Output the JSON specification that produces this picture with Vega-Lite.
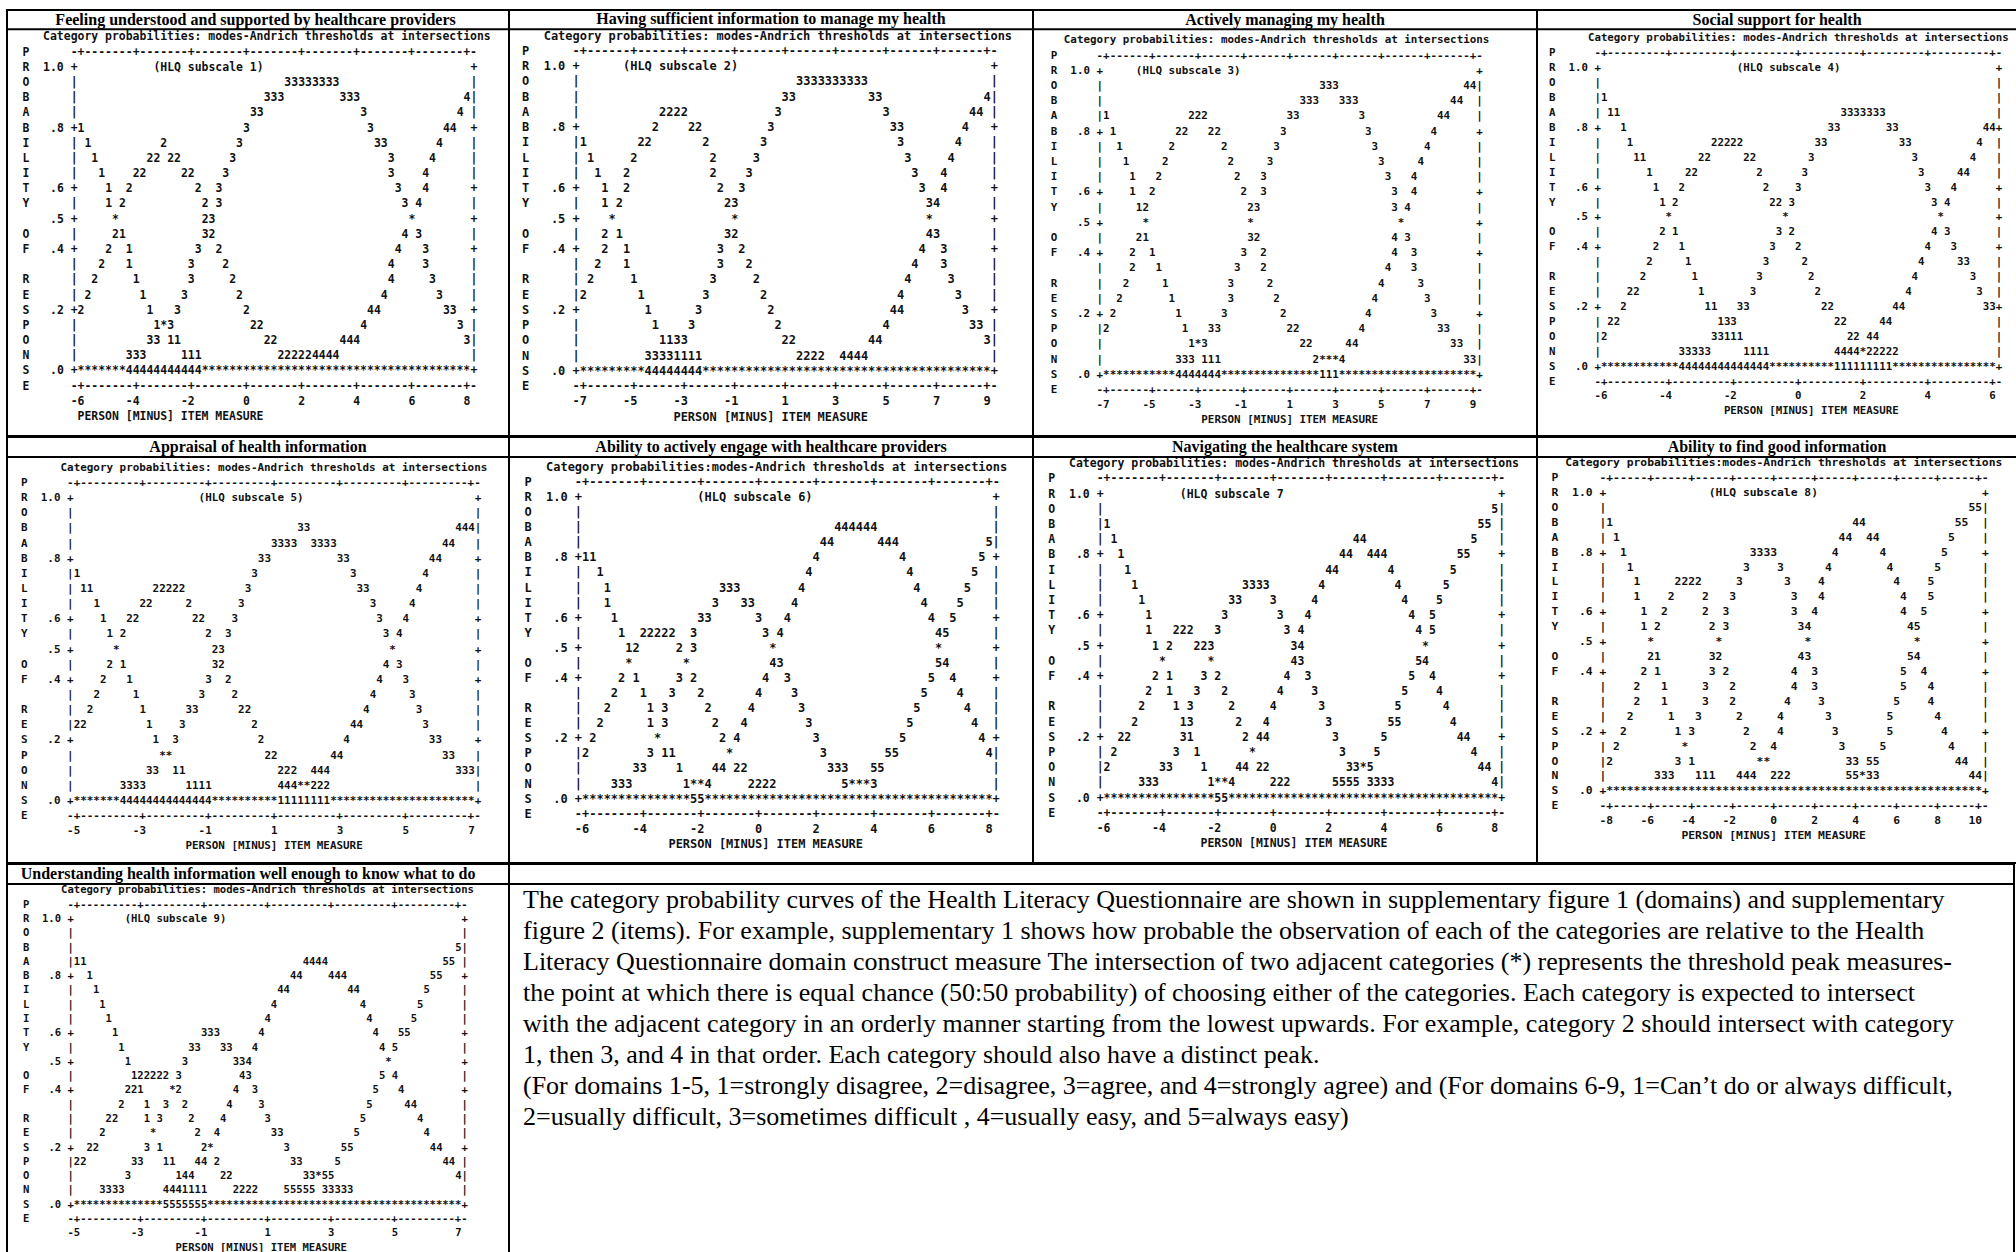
{
"$schema": "https://vega.github.io/schema/vega-lite/v6.json",
"background": "white",
"padding": {"left": 5, "top": 9, "right": 0, "bottom": 0},
"config": {"view": {"stroke": "black", "strokeWidth": 2}, "concat": {"spacing": 0}, "axis": {"disable": true}},
"datasets": {
"axisL": [
{"r":1,"c":0,"t":"P"},
{"r":2,"c":0,"t":"R"},{"r":2,"c":3,"t":"1.0 +"},
{"r":3,"c":0,"t":"O"},{"r":3,"c":7,"t":"|"},
{"r":4,"c":0,"t":"B"},{"r":4,"c":7,"t":"|"},
{"r":5,"c":0,"t":"A"},{"r":5,"c":7,"t":"|"},
{"r":6,"c":0,"t":"B"},{"r":6,"c":4,"t":".8 +"},
{"r":7,"c":0,"t":"I"},{"r":7,"c":7,"t":"|"},
{"r":8,"c":0,"t":"L"},{"r":8,"c":7,"t":"|"},
{"r":9,"c":0,"t":"I"},{"r":9,"c":7,"t":"|"},
{"r":10,"c":0,"t":"T"},{"r":10,"c":4,"t":".6 +"},
{"r":11,"c":0,"t":"Y"},{"r":11,"c":7,"t":"|"},
{"r":12,"c":4,"t":".5 +"},
{"r":13,"c":0,"t":"O"},{"r":13,"c":7,"t":"|"},
{"r":14,"c":0,"t":"F"},{"r":14,"c":4,"t":".4 +"},
{"r":15,"c":7,"t":"|"},
{"r":16,"c":0,"t":"R"},{"r":16,"c":7,"t":"|"},
{"r":17,"c":0,"t":"E"},{"r":17,"c":7,"t":"|"},
{"r":18,"c":0,"t":"S"},{"r":18,"c":4,"t":".2 +"},
{"r":19,"c":0,"t":"P"},{"r":19,"c":7,"t":"|"},
{"r":20,"c":0,"t":"O"},{"r":20,"c":7,"t":"|"},
{"r":21,"c":0,"t":"N"},{"r":21,"c":7,"t":"|"},
{"r":22,"c":0,"t":"S"},{"r":22,"c":4,"t":".0 +"},
{"r":23,"c":0,"t":"E"}
],
"axisR": [
{"r":2,"t":"+"},{"r":3,"t":"|"},{"r":4,"t":"|"},{"r":5,"t":"|"},{"r":6,"t":"+"},{"r":7,"t":"|"},{"r":8,"t":"|"},{"r":9,"t":"|"},{"r":10,"t":"+"},{"r":11,"t":"|"},{"r":12,"t":"+"},{"r":13,"t":"|"},{"r":14,"t":"+"},{"r":15,"t":"|"},{"r":16,"t":"|"},{"r":17,"t":"|"},{"r":18,"t":"+"},{"r":19,"t":"|"},{"r":20,"t":"|"},{"r":21,"t":"|"},{"r":22,"t":"+"}
],
"titles": [
{"p":1,"t":"Feeling understood and supported by healthcare providers"},
{"p":2,"t":"Having sufficient information to manage my health"},
{"p":3,"t":"Actively managing my health"},
{"p":4,"t":"Social support for health"},
{"p":5,"t":"Appraisal of health information"},
{"p":6,"t":"Ability to actively engage with healthcare providers"},
{"p":7,"t":"Navigating the healthcare system"},
{"p":8,"t":"Ability to find good information"},
{"p":9,"t":"Understanding health information well enough to know what to do"}
],
"note": [
{"i":0,"t":"The category probability curves of the Health Literacy Questionnaire are shown in supplementary figure 1 (domains) and supplementary"},
{"i":1,"t":"figure 2 (items). For example, supplementary 1 shows how probable the observation of each of the categories are relative to the Health"},
{"i":2,"t":"Literacy Questionnaire domain construct measure The intersection of two adjacent categories (*) represents the threshold peak measures-"},
{"i":3,"t":"the point at which there is equal chance (50:50 probability) of choosing either of the categories. Each category is expected to intersect"},
{"i":4,"t":"with the adjacent category in an orderly manner starting from the lowest upwards. For example, category 2 should intersect with category"},
{"i":5,"t":"1, then 3, and 4 in that order. Each category should also have a distinct peak."},
{"i":6,"t":"(For domains 1-5, 1=strongly disagree, 2=disagree, 3=agree, and 4=strongly agree) and (For domains 6-9, 1=Can’t do or always difficult,"},
{"i":7,"t":"2=usually difficult, 3=sometimes difficult , 4=usually easy, and 5=always easy)"}
],
"seg": [
{"p":1,"r":0,"c":3,"t":"Category probabilities: modes-Andrich thresholds at intersections"},
{"p":1,"r":1,"c":7,"t":"-+-------+-------+-------+-------+-------+-------+-------+-"},
{"p":1,"r":2,"c":19,"t":"(HLQ subscale 1)"},
{"p":1,"r":3,"c":38,"t":"33333333"},
{"p":1,"r":4,"c":35,"t":"333"},{"p":1,"r":4,"c":46,"t":"333"},{"p":1,"r":4,"c":64,"t":"4"},
{"p":1,"r":5,"c":33,"t":"33"},{"p":1,"r":5,"c":49,"t":"3"},{"p":1,"r":5,"c":63,"t":"4"},
{"p":1,"r":6,"c":8,"t":"1"},{"p":1,"r":6,"c":32,"t":"3"},{"p":1,"r":6,"c":50,"t":"3"},{"p":1,"r":6,"c":61,"t":"44"},
{"p":1,"r":7,"c":9,"t":"1"},{"p":1,"r":7,"c":20,"t":"2"},{"p":1,"r":7,"c":31,"t":"3"},{"p":1,"r":7,"c":51,"t":"33"},{"p":1,"r":7,"c":60,"t":"4"},
{"p":1,"r":8,"c":10,"t":"1"},{"p":1,"r":8,"c":18,"t":"22 22"},{"p":1,"r":8,"c":30,"t":"3"},{"p":1,"r":8,"c":53,"t":"3"},{"p":1,"r":8,"c":59,"t":"4"},
{"p":1,"r":9,"c":11,"t":"1"},{"p":1,"r":9,"c":16,"t":"22"},{"p":1,"r":9,"c":23,"t":"22"},{"p":1,"r":9,"c":29,"t":"3"},{"p":1,"r":9,"c":53,"t":"3"},{"p":1,"r":9,"c":58,"t":"4"},
{"p":1,"r":10,"c":12,"t":"1"},{"p":1,"r":10,"c":15,"t":"2"},{"p":1,"r":10,"c":25,"t":"2"},{"p":1,"r":10,"c":28,"t":"3"},{"p":1,"r":10,"c":54,"t":"3"},{"p":1,"r":10,"c":58,"t":"4"},
{"p":1,"r":11,"c":12,"t":"1 2"},{"p":1,"r":11,"c":26,"t":"2 3"},{"p":1,"r":11,"c":55,"t":"3 4"},
{"p":1,"r":12,"c":13,"t":"*"},{"p":1,"r":12,"c":26,"t":"23"},{"p":1,"r":12,"c":56,"t":"*"},
{"p":1,"r":13,"c":13,"t":"21"},{"p":1,"r":13,"c":26,"t":"32"},{"p":1,"r":13,"c":55,"t":"4 3"},
{"p":1,"r":14,"c":12,"t":"2"},{"p":1,"r":14,"c":15,"t":"1"},{"p":1,"r":14,"c":25,"t":"3"},{"p":1,"r":14,"c":28,"t":"2"},{"p":1,"r":14,"c":54,"t":"4"},{"p":1,"r":14,"c":58,"t":"3"},
{"p":1,"r":15,"c":11,"t":"2"},{"p":1,"r":15,"c":15,"t":"1"},{"p":1,"r":15,"c":24,"t":"3"},{"p":1,"r":15,"c":29,"t":"2"},{"p":1,"r":15,"c":53,"t":"4"},{"p":1,"r":15,"c":58,"t":"3"},
{"p":1,"r":16,"c":10,"t":"2"},{"p":1,"r":16,"c":16,"t":"1"},{"p":1,"r":16,"c":24,"t":"3"},{"p":1,"r":16,"c":30,"t":"2"},{"p":1,"r":16,"c":53,"t":"4"},{"p":1,"r":16,"c":59,"t":"3"},
{"p":1,"r":17,"c":9,"t":"2"},{"p":1,"r":17,"c":17,"t":"1"},{"p":1,"r":17,"c":23,"t":"3"},{"p":1,"r":17,"c":31,"t":"2"},{"p":1,"r":17,"c":52,"t":"4"},{"p":1,"r":17,"c":60,"t":"3"},
{"p":1,"r":18,"c":8,"t":"2"},{"p":1,"r":18,"c":18,"t":"1"},{"p":1,"r":18,"c":22,"t":"3"},{"p":1,"r":18,"c":32,"t":"2"},{"p":1,"r":18,"c":50,"t":"44"},{"p":1,"r":18,"c":61,"t":"33"},
{"p":1,"r":19,"c":19,"t":"1*3"},{"p":1,"r":19,"c":33,"t":"22"},{"p":1,"r":19,"c":49,"t":"4"},{"p":1,"r":19,"c":63,"t":"3"},
{"p":1,"r":20,"c":18,"t":"33 11"},{"p":1,"r":20,"c":35,"t":"22"},{"p":1,"r":20,"c":46,"t":"444"},{"p":1,"r":20,"c":64,"t":"3"},
{"p":1,"r":21,"c":15,"t":"333"},{"p":1,"r":21,"c":23,"t":"111"},{"p":1,"r":21,"c":37,"t":"222224444"},
{"p":1,"r":22,"c":8,"t":"*******"},{"p":1,"r":22,"c":15,"t":"44444444444"},{"p":1,"r":22,"c":26,"t":"***************************************"},
{"p":1,"r":23,"c":7,"t":"-+-------+-------+-------+-------+-------+-------+-------+-"},
{"p":1,"r":24,"c":7,"t":"-6"},{"p":1,"r":24,"c":15,"t":"-4"},{"p":1,"r":24,"c":23,"t":"-2"},{"p":1,"r":24,"c":32,"t":"0"},{"p":1,"r":24,"c":40,"t":"2"},{"p":1,"r":24,"c":48,"t":"4"},{"p":1,"r":24,"c":56,"t":"6"},{"p":1,"r":24,"c":64,"t":"8"},
{"p":1,"r":25,"c":8,"t":"PERSON [MINUS] ITEM MEASURE"},

{"p":2,"r":0,"c":3,"t":"Category probabilities: modes-Andrich thresholds at intersections"},
{"p":2,"r":1,"c":7,"t":"-+------+------+------+------+------+------+------+------+-"},
{"p":2,"r":2,"c":14,"t":"(HLQ subscale 2)"},
{"p":2,"r":3,"c":38,"t":"3333333333"},
{"p":2,"r":4,"c":36,"t":"33"},{"p":2,"r":4,"c":48,"t":"33"},{"p":2,"r":4,"c":64,"t":"4"},
{"p":2,"r":5,"c":19,"t":"2222"},{"p":2,"r":5,"c":35,"t":"3"},{"p":2,"r":5,"c":50,"t":"3"},{"p":2,"r":5,"c":62,"t":"44"},
{"p":2,"r":6,"c":18,"t":"2"},{"p":2,"r":6,"c":23,"t":"22"},{"p":2,"r":6,"c":34,"t":"3"},{"p":2,"r":6,"c":51,"t":"33"},{"p":2,"r":6,"c":61,"t":"4"},
{"p":2,"r":7,"c":8,"t":"1"},{"p":2,"r":7,"c":16,"t":"22"},{"p":2,"r":7,"c":25,"t":"2"},{"p":2,"r":7,"c":33,"t":"3"},{"p":2,"r":7,"c":52,"t":"3"},{"p":2,"r":7,"c":60,"t":"4"},
{"p":2,"r":8,"c":9,"t":"1"},{"p":2,"r":8,"c":15,"t":"2"},{"p":2,"r":8,"c":26,"t":"2"},{"p":2,"r":8,"c":32,"t":"3"},{"p":2,"r":8,"c":53,"t":"3"},{"p":2,"r":8,"c":59,"t":"4"},
{"p":2,"r":9,"c":10,"t":"1"},{"p":2,"r":9,"c":14,"t":"2"},{"p":2,"r":9,"c":26,"t":"2"},{"p":2,"r":9,"c":31,"t":"3"},{"p":2,"r":9,"c":54,"t":"3"},{"p":2,"r":9,"c":58,"t":"4"},
{"p":2,"r":10,"c":11,"t":"1"},{"p":2,"r":10,"c":14,"t":"2"},{"p":2,"r":10,"c":27,"t":"2"},{"p":2,"r":10,"c":30,"t":"3"},{"p":2,"r":10,"c":55,"t":"3"},{"p":2,"r":10,"c":58,"t":"4"},
{"p":2,"r":11,"c":11,"t":"1 2"},{"p":2,"r":11,"c":28,"t":"23"},{"p":2,"r":11,"c":56,"t":"34"},
{"p":2,"r":12,"c":12,"t":"*"},{"p":2,"r":12,"c":29,"t":"*"},{"p":2,"r":12,"c":56,"t":"*"},
{"p":2,"r":13,"c":11,"t":"2 1"},{"p":2,"r":13,"c":28,"t":"32"},{"p":2,"r":13,"c":56,"t":"43"},
{"p":2,"r":14,"c":11,"t":"2"},{"p":2,"r":14,"c":14,"t":"1"},{"p":2,"r":14,"c":27,"t":"3"},{"p":2,"r":14,"c":30,"t":"2"},{"p":2,"r":14,"c":55,"t":"4"},{"p":2,"r":14,"c":58,"t":"3"},
{"p":2,"r":15,"c":10,"t":"2"},{"p":2,"r":15,"c":14,"t":"1"},{"p":2,"r":15,"c":27,"t":"3"},{"p":2,"r":15,"c":31,"t":"2"},{"p":2,"r":15,"c":54,"t":"4"},{"p":2,"r":15,"c":58,"t":"3"},
{"p":2,"r":16,"c":9,"t":"2"},{"p":2,"r":16,"c":15,"t":"1"},{"p":2,"r":16,"c":26,"t":"3"},{"p":2,"r":16,"c":32,"t":"2"},{"p":2,"r":16,"c":53,"t":"4"},{"p":2,"r":16,"c":59,"t":"3"},
{"p":2,"r":17,"c":8,"t":"2"},{"p":2,"r":17,"c":16,"t":"1"},{"p":2,"r":17,"c":25,"t":"3"},{"p":2,"r":17,"c":33,"t":"2"},{"p":2,"r":17,"c":52,"t":"4"},{"p":2,"r":17,"c":60,"t":"3"},
{"p":2,"r":18,"c":17,"t":"1"},{"p":2,"r":18,"c":24,"t":"3"},{"p":2,"r":18,"c":34,"t":"2"},{"p":2,"r":18,"c":51,"t":"44"},{"p":2,"r":18,"c":61,"t":"3"},
{"p":2,"r":19,"c":18,"t":"1"},{"p":2,"r":19,"c":23,"t":"3"},{"p":2,"r":19,"c":35,"t":"2"},{"p":2,"r":19,"c":50,"t":"4"},{"p":2,"r":19,"c":62,"t":"33"},
{"p":2,"r":20,"c":19,"t":"1133"},{"p":2,"r":20,"c":36,"t":"22"},{"p":2,"r":20,"c":48,"t":"44"},{"p":2,"r":20,"c":64,"t":"3"},
{"p":2,"r":21,"c":17,"t":"33331111"},{"p":2,"r":21,"c":38,"t":"2222"},{"p":2,"r":21,"c":44,"t":"4444"},
{"p":2,"r":22,"c":8,"t":"*********"},{"p":2,"r":22,"c":17,"t":"44444444"},{"p":2,"r":22,"c":25,"t":"****************************************"},
{"p":2,"r":23,"c":7,"t":"-+------+------+------+------+------+------+------+------+-"},
{"p":2,"r":24,"c":7,"t":"-7"},{"p":2,"r":24,"c":14,"t":"-5"},{"p":2,"r":24,"c":21,"t":"-3"},{"p":2,"r":24,"c":28,"t":"-1"},{"p":2,"r":24,"c":36,"t":"1"},{"p":2,"r":24,"c":43,"t":"3"},{"p":2,"r":24,"c":50,"t":"5"},{"p":2,"r":24,"c":57,"t":"7"},{"p":2,"r":24,"c":64,"t":"9"},
{"p":2,"r":25,"c":21,"t":"PERSON [MINUS] ITEM MEASURE"},

{"p":3,"r":0,"c":2,"t":"Category probabilities: modes-Andrich thresholds at intersections"},
{"p":3,"r":1,"c":7,"t":"-+------+------+------+------+------+------+------+------+-"},
{"p":3,"r":2,"c":13,"t":"(HLQ subscale 3)"},
{"p":3,"r":3,"c":41,"t":"333"},{"p":3,"r":3,"c":63,"t":"44"},
{"p":3,"r":4,"c":38,"t":"333"},{"p":3,"r":4,"c":44,"t":"333"},{"p":3,"r":4,"c":61,"t":"44"},
{"p":3,"r":5,"c":8,"t":"1"},{"p":3,"r":5,"c":21,"t":"222"},{"p":3,"r":5,"c":36,"t":"33"},{"p":3,"r":5,"c":47,"t":"3"},{"p":3,"r":5,"c":59,"t":"44"},
{"p":3,"r":6,"c":9,"t":"1"},{"p":3,"r":6,"c":19,"t":"22"},{"p":3,"r":6,"c":24,"t":"22"},{"p":3,"r":6,"c":35,"t":"3"},{"p":3,"r":6,"c":48,"t":"3"},{"p":3,"r":6,"c":58,"t":"4"},
{"p":3,"r":7,"c":10,"t":"1"},{"p":3,"r":7,"c":18,"t":"2"},{"p":3,"r":7,"c":26,"t":"2"},{"p":3,"r":7,"c":34,"t":"3"},{"p":3,"r":7,"c":49,"t":"3"},{"p":3,"r":7,"c":57,"t":"4"},
{"p":3,"r":8,"c":11,"t":"1"},{"p":3,"r":8,"c":17,"t":"2"},{"p":3,"r":8,"c":27,"t":"2"},{"p":3,"r":8,"c":33,"t":"3"},{"p":3,"r":8,"c":50,"t":"3"},{"p":3,"r":8,"c":56,"t":"4"},
{"p":3,"r":9,"c":12,"t":"1"},{"p":3,"r":9,"c":16,"t":"2"},{"p":3,"r":9,"c":28,"t":"2"},{"p":3,"r":9,"c":32,"t":"3"},{"p":3,"r":9,"c":51,"t":"3"},{"p":3,"r":9,"c":55,"t":"4"},
{"p":3,"r":10,"c":12,"t":"1"},{"p":3,"r":10,"c":15,"t":"2"},{"p":3,"r":10,"c":29,"t":"2"},{"p":3,"r":10,"c":32,"t":"3"},{"p":3,"r":10,"c":52,"t":"3"},{"p":3,"r":10,"c":55,"t":"4"},
{"p":3,"r":11,"c":13,"t":"12"},{"p":3,"r":11,"c":30,"t":"23"},{"p":3,"r":11,"c":52,"t":"3 4"},
{"p":3,"r":12,"c":14,"t":"*"},{"p":3,"r":12,"c":30,"t":"*"},{"p":3,"r":12,"c":53,"t":"*"},
{"p":3,"r":13,"c":13,"t":"21"},{"p":3,"r":13,"c":30,"t":"32"},{"p":3,"r":13,"c":52,"t":"4 3"},
{"p":3,"r":14,"c":12,"t":"2"},{"p":3,"r":14,"c":15,"t":"1"},{"p":3,"r":14,"c":29,"t":"3"},{"p":3,"r":14,"c":32,"t":"2"},{"p":3,"r":14,"c":52,"t":"4"},{"p":3,"r":14,"c":55,"t":"3"},
{"p":3,"r":15,"c":12,"t":"2"},{"p":3,"r":15,"c":16,"t":"1"},{"p":3,"r":15,"c":28,"t":"3"},{"p":3,"r":15,"c":32,"t":"2"},{"p":3,"r":15,"c":51,"t":"4"},{"p":3,"r":15,"c":55,"t":"3"},
{"p":3,"r":16,"c":11,"t":"2"},{"p":3,"r":16,"c":17,"t":"1"},{"p":3,"r":16,"c":27,"t":"3"},{"p":3,"r":16,"c":33,"t":"2"},{"p":3,"r":16,"c":50,"t":"4"},{"p":3,"r":16,"c":56,"t":"3"},
{"p":3,"r":17,"c":10,"t":"2"},{"p":3,"r":17,"c":18,"t":"1"},{"p":3,"r":17,"c":27,"t":"3"},{"p":3,"r":17,"c":34,"t":"2"},{"p":3,"r":17,"c":49,"t":"4"},{"p":3,"r":17,"c":57,"t":"3"},
{"p":3,"r":18,"c":9,"t":"2"},{"p":3,"r":18,"c":19,"t":"1"},{"p":3,"r":18,"c":26,"t":"3"},{"p":3,"r":18,"c":35,"t":"2"},{"p":3,"r":18,"c":48,"t":"4"},{"p":3,"r":18,"c":58,"t":"3"},
{"p":3,"r":19,"c":8,"t":"2"},{"p":3,"r":19,"c":20,"t":"1"},{"p":3,"r":19,"c":24,"t":"33"},{"p":3,"r":19,"c":36,"t":"22"},{"p":3,"r":19,"c":47,"t":"4"},{"p":3,"r":19,"c":59,"t":"33"},
{"p":3,"r":20,"c":21,"t":"1*3"},{"p":3,"r":20,"c":38,"t":"22"},{"p":3,"r":20,"c":45,"t":"44"},{"p":3,"r":20,"c":61,"t":"33"},
{"p":3,"r":21,"c":19,"t":"333 111"},{"p":3,"r":21,"c":40,"t":"2***4"},{"p":3,"r":21,"c":63,"t":"33"},
{"p":3,"r":22,"c":8,"t":"***********"},{"p":3,"r":22,"c":19,"t":"4444444"},{"p":3,"r":22,"c":26,"t":"***************"},{"p":3,"r":22,"c":41,"t":"111"},{"p":3,"r":22,"c":44,"t":"*********************"},
{"p":3,"r":23,"c":7,"t":"-+------+------+------+------+------+------+------+------+-"},
{"p":3,"r":24,"c":7,"t":"-7"},{"p":3,"r":24,"c":14,"t":"-5"},{"p":3,"r":24,"c":21,"t":"-3"},{"p":3,"r":24,"c":28,"t":"-1"},{"p":3,"r":24,"c":36,"t":"1"},{"p":3,"r":24,"c":43,"t":"3"},{"p":3,"r":24,"c":50,"t":"5"},{"p":3,"r":24,"c":57,"t":"7"},{"p":3,"r":24,"c":64,"t":"9"},
{"p":3,"r":25,"c":23,"t":"PERSON [MINUS] ITEM MEASURE"},

{"p":4,"r":0,"c":6,"t":"Category probabilities: modes-Andrich thresholds at intersections"},
{"p":4,"r":1,"c":7,"t":"-+---------+---------+---------+---------+---------+---------+-"},
{"p":4,"r":2,"c":29,"t":"(HLQ subscale 4)"},
{"p":4,"r":4,"c":8,"t":"1"},
{"p":4,"r":5,"c":9,"t":"11"},{"p":4,"r":5,"c":45,"t":"3333333"},
{"p":4,"r":6,"c":11,"t":"1"},{"p":4,"r":6,"c":43,"t":"33"},{"p":4,"r":6,"c":52,"t":"33"},{"p":4,"r":6,"c":67,"t":"44"},
{"p":4,"r":7,"c":12,"t":"1"},{"p":4,"r":7,"c":25,"t":"22222"},{"p":4,"r":7,"c":41,"t":"33"},{"p":4,"r":7,"c":54,"t":"33"},{"p":4,"r":7,"c":66,"t":"4"},
{"p":4,"r":8,"c":13,"t":"11"},{"p":4,"r":8,"c":23,"t":"22"},{"p":4,"r":8,"c":30,"t":"22"},{"p":4,"r":8,"c":40,"t":"3"},{"p":4,"r":8,"c":56,"t":"3"},{"p":4,"r":8,"c":65,"t":"4"},
{"p":4,"r":9,"c":15,"t":"1"},{"p":4,"r":9,"c":21,"t":"22"},{"p":4,"r":9,"c":32,"t":"2"},{"p":4,"r":9,"c":39,"t":"3"},{"p":4,"r":9,"c":57,"t":"3"},{"p":4,"r":9,"c":63,"t":"44"},
{"p":4,"r":10,"c":16,"t":"1"},{"p":4,"r":10,"c":20,"t":"2"},{"p":4,"r":10,"c":33,"t":"2"},{"p":4,"r":10,"c":38,"t":"3"},{"p":4,"r":10,"c":58,"t":"3"},{"p":4,"r":10,"c":62,"t":"4"},
{"p":4,"r":11,"c":17,"t":"1 2"},{"p":4,"r":11,"c":34,"t":"22 3"},{"p":4,"r":11,"c":59,"t":"3 4"},
{"p":4,"r":12,"c":18,"t":"*"},{"p":4,"r":12,"c":36,"t":"*"},{"p":4,"r":12,"c":60,"t":"*"},
{"p":4,"r":13,"c":17,"t":"2 1"},{"p":4,"r":13,"c":35,"t":"3 2"},{"p":4,"r":13,"c":59,"t":"4 3"},
{"p":4,"r":14,"c":16,"t":"2"},{"p":4,"r":14,"c":20,"t":"1"},{"p":4,"r":14,"c":34,"t":"3"},{"p":4,"r":14,"c":38,"t":"2"},{"p":4,"r":14,"c":58,"t":"4"},{"p":4,"r":14,"c":62,"t":"3"},
{"p":4,"r":15,"c":15,"t":"2"},{"p":4,"r":15,"c":21,"t":"1"},{"p":4,"r":15,"c":33,"t":"3"},{"p":4,"r":15,"c":39,"t":"2"},{"p":4,"r":15,"c":57,"t":"4"},{"p":4,"r":15,"c":63,"t":"33"},
{"p":4,"r":16,"c":14,"t":"2"},{"p":4,"r":16,"c":22,"t":"1"},{"p":4,"r":16,"c":32,"t":"3"},{"p":4,"r":16,"c":40,"t":"2"},{"p":4,"r":16,"c":56,"t":"4"},{"p":4,"r":16,"c":65,"t":"3"},
{"p":4,"r":17,"c":12,"t":"22"},{"p":4,"r":17,"c":23,"t":"1"},{"p":4,"r":17,"c":31,"t":"3"},{"p":4,"r":17,"c":41,"t":"2"},{"p":4,"r":17,"c":55,"t":"4"},{"p":4,"r":17,"c":66,"t":"3"},
{"p":4,"r":18,"c":11,"t":"2"},{"p":4,"r":18,"c":24,"t":"11"},{"p":4,"r":18,"c":29,"t":"33"},{"p":4,"r":18,"c":42,"t":"22"},{"p":4,"r":18,"c":53,"t":"44"},{"p":4,"r":18,"c":67,"t":"33"},
{"p":4,"r":19,"c":9,"t":"22"},{"p":4,"r":19,"c":26,"t":"133"},{"p":4,"r":19,"c":44,"t":"22"},{"p":4,"r":19,"c":51,"t":"44"},
{"p":4,"r":20,"c":8,"t":"2"},{"p":4,"r":20,"c":25,"t":"33111"},{"p":4,"r":20,"c":46,"t":"22 44"},
{"p":4,"r":21,"c":20,"t":"33333"},{"p":4,"r":21,"c":30,"t":"1111"},{"p":4,"r":21,"c":44,"t":"4444*22222"},
{"p":4,"r":22,"c":8,"t":"************"},{"p":4,"r":22,"c":20,"t":"44444444444444"},{"p":4,"r":22,"c":34,"t":"**********"},{"p":4,"r":22,"c":44,"t":"111111111"},{"p":4,"r":22,"c":53,"t":"****************"},
{"p":4,"r":23,"c":7,"t":"-+---------+---------+---------+---------+---------+---------+-"},
{"p":4,"r":24,"c":7,"t":"-6"},{"p":4,"r":24,"c":17,"t":"-4"},{"p":4,"r":24,"c":27,"t":"-2"},{"p":4,"r":24,"c":38,"t":"0"},{"p":4,"r":24,"c":48,"t":"2"},{"p":4,"r":24,"c":58,"t":"4"},{"p":4,"r":24,"c":68,"t":"6"},
{"p":4,"r":25,"c":27,"t":"PERSON [MINUS] ITEM MEASURE"},

{"p":5,"r":0,"c":6,"t":"Category probabilities: modes-Andrich thresholds at intersections"},
{"p":5,"r":1,"c":7,"t":"-+---------+---------+---------+---------+---------+---------+-"},
{"p":5,"r":2,"c":27,"t":"(HLQ subscale 5)"},
{"p":5,"r":4,"c":42,"t":"33"},{"p":5,"r":4,"c":66,"t":"444"},
{"p":5,"r":5,"c":38,"t":"3333"},{"p":5,"r":5,"c":44,"t":"3333"},{"p":5,"r":5,"c":64,"t":"44"},
{"p":5,"r":6,"c":36,"t":"33"},{"p":5,"r":6,"c":48,"t":"33"},{"p":5,"r":6,"c":62,"t":"44"},
{"p":5,"r":7,"c":8,"t":"1"},{"p":5,"r":7,"c":35,"t":"3"},{"p":5,"r":7,"c":50,"t":"3"},{"p":5,"r":7,"c":61,"t":"4"},
{"p":5,"r":8,"c":9,"t":"11"},{"p":5,"r":8,"c":20,"t":"22222"},{"p":5,"r":8,"c":34,"t":"3"},{"p":5,"r":8,"c":51,"t":"33"},{"p":5,"r":8,"c":60,"t":"4"},
{"p":5,"r":9,"c":11,"t":"1"},{"p":5,"r":9,"c":18,"t":"22"},{"p":5,"r":9,"c":25,"t":"2"},{"p":5,"r":9,"c":33,"t":"3"},{"p":5,"r":9,"c":53,"t":"3"},{"p":5,"r":9,"c":59,"t":"4"},
{"p":5,"r":10,"c":12,"t":"1"},{"p":5,"r":10,"c":16,"t":"22"},{"p":5,"r":10,"c":26,"t":"22"},{"p":5,"r":10,"c":32,"t":"3"},{"p":5,"r":10,"c":54,"t":"3"},{"p":5,"r":10,"c":58,"t":"4"},
{"p":5,"r":11,"c":13,"t":"1 2"},{"p":5,"r":11,"c":28,"t":"2"},{"p":5,"r":11,"c":31,"t":"3"},{"p":5,"r":11,"c":55,"t":"3 4"},
{"p":5,"r":12,"c":14,"t":"*"},{"p":5,"r":12,"c":29,"t":"23"},{"p":5,"r":12,"c":56,"t":"*"},
{"p":5,"r":13,"c":13,"t":"2 1"},{"p":5,"r":13,"c":29,"t":"32"},{"p":5,"r":13,"c":55,"t":"4 3"},
{"p":5,"r":14,"c":12,"t":"2"},{"p":5,"r":14,"c":16,"t":"1"},{"p":5,"r":14,"c":28,"t":"3"},{"p":5,"r":14,"c":31,"t":"2"},{"p":5,"r":14,"c":54,"t":"4"},{"p":5,"r":14,"c":58,"t":"3"},
{"p":5,"r":15,"c":11,"t":"2"},{"p":5,"r":15,"c":17,"t":"1"},{"p":5,"r":15,"c":27,"t":"3"},{"p":5,"r":15,"c":32,"t":"2"},{"p":5,"r":15,"c":53,"t":"4"},{"p":5,"r":15,"c":59,"t":"3"},
{"p":5,"r":16,"c":10,"t":"2"},{"p":5,"r":16,"c":18,"t":"1"},{"p":5,"r":16,"c":25,"t":"33"},{"p":5,"r":16,"c":33,"t":"22"},{"p":5,"r":16,"c":52,"t":"4"},{"p":5,"r":16,"c":60,"t":"3"},
{"p":5,"r":17,"c":8,"t":"22"},{"p":5,"r":17,"c":19,"t":"1"},{"p":5,"r":17,"c":24,"t":"3"},{"p":5,"r":17,"c":35,"t":"2"},{"p":5,"r":17,"c":50,"t":"44"},{"p":5,"r":17,"c":61,"t":"3"},
{"p":5,"r":18,"c":20,"t":"1"},{"p":5,"r":18,"c":23,"t":"3"},{"p":5,"r":18,"c":36,"t":"2"},{"p":5,"r":18,"c":49,"t":"4"},{"p":5,"r":18,"c":62,"t":"33"},
{"p":5,"r":19,"c":21,"t":"**"},{"p":5,"r":19,"c":37,"t":"22"},{"p":5,"r":19,"c":47,"t":"44"},{"p":5,"r":19,"c":64,"t":"33"},
{"p":5,"r":20,"c":19,"t":"33"},{"p":5,"r":20,"c":23,"t":"11"},{"p":5,"r":20,"c":39,"t":"222"},{"p":5,"r":20,"c":44,"t":"444"},{"p":5,"r":20,"c":66,"t":"333"},
{"p":5,"r":21,"c":15,"t":"3333"},{"p":5,"r":21,"c":25,"t":"1111"},{"p":5,"r":21,"c":39,"t":"444**222"},
{"p":5,"r":22,"c":8,"t":"*******"},{"p":5,"r":22,"c":15,"t":"44444444444444"},{"p":5,"r":22,"c":29,"t":"**********"},{"p":5,"r":22,"c":39,"t":"11111111"},{"p":5,"r":22,"c":47,"t":"**********************"},
{"p":5,"r":23,"c":7,"t":"-+---------+---------+---------+---------+---------+---------+-"},
{"p":5,"r":24,"c":7,"t":"-5"},{"p":5,"r":24,"c":17,"t":"-3"},{"p":5,"r":24,"c":27,"t":"-1"},{"p":5,"r":24,"c":38,"t":"1"},{"p":5,"r":24,"c":48,"t":"3"},{"p":5,"r":24,"c":58,"t":"5"},{"p":5,"r":24,"c":68,"t":"7"},
{"p":5,"r":25,"c":25,"t":"PERSON [MINUS] ITEM MEASURE"},

{"p":6,"r":0,"c":3,"t":"Category probabilities:modes-Andrich thresholds at intersections"},
{"p":6,"r":1,"c":7,"t":"-+-------+-------+-------+-------+-------+-------+-------+-"},
{"p":6,"r":2,"c":24,"t":"(HLQ subscale 6)"},
{"p":6,"r":4,"c":43,"t":"444444"},
{"p":6,"r":5,"c":41,"t":"44"},{"p":6,"r":5,"c":49,"t":"444"},{"p":6,"r":5,"c":64,"t":"5"},
{"p":6,"r":6,"c":8,"t":"11"},{"p":6,"r":6,"c":40,"t":"4"},{"p":6,"r":6,"c":52,"t":"4"},{"p":6,"r":6,"c":63,"t":"5"},
{"p":6,"r":7,"c":10,"t":"1"},{"p":6,"r":7,"c":39,"t":"4"},{"p":6,"r":7,"c":53,"t":"4"},{"p":6,"r":7,"c":62,"t":"5"},
{"p":6,"r":8,"c":11,"t":"1"},{"p":6,"r":8,"c":27,"t":"333"},{"p":6,"r":8,"c":38,"t":"4"},{"p":6,"r":8,"c":54,"t":"4"},{"p":6,"r":8,"c":61,"t":"5"},
{"p":6,"r":9,"c":11,"t":"1"},{"p":6,"r":9,"c":26,"t":"3"},{"p":6,"r":9,"c":30,"t":"33"},{"p":6,"r":9,"c":37,"t":"4"},{"p":6,"r":9,"c":55,"t":"4"},{"p":6,"r":9,"c":60,"t":"5"},
{"p":6,"r":10,"c":12,"t":"1"},{"p":6,"r":10,"c":24,"t":"33"},{"p":6,"r":10,"c":32,"t":"3"},{"p":6,"r":10,"c":36,"t":"4"},{"p":6,"r":10,"c":56,"t":"4"},{"p":6,"r":10,"c":59,"t":"5"},
{"p":6,"r":11,"c":13,"t":"1"},{"p":6,"r":11,"c":16,"t":"22222"},{"p":6,"r":11,"c":23,"t":"3"},{"p":6,"r":11,"c":33,"t":"3 4"},{"p":6,"r":11,"c":57,"t":"45"},
{"p":6,"r":12,"c":14,"t":"12"},{"p":6,"r":12,"c":21,"t":"2 3"},{"p":6,"r":12,"c":34,"t":"*"},{"p":6,"r":12,"c":57,"t":"*"},
{"p":6,"r":13,"c":14,"t":"*"},{"p":6,"r":13,"c":22,"t":"*"},{"p":6,"r":13,"c":34,"t":"43"},{"p":6,"r":13,"c":57,"t":"54"},
{"p":6,"r":14,"c":13,"t":"2 1"},{"p":6,"r":14,"c":21,"t":"3 2"},{"p":6,"r":14,"c":33,"t":"4"},{"p":6,"r":14,"c":36,"t":"3"},{"p":6,"r":14,"c":56,"t":"5"},{"p":6,"r":14,"c":59,"t":"4"},
{"p":6,"r":15,"c":12,"t":"2"},{"p":6,"r":15,"c":16,"t":"1"},{"p":6,"r":15,"c":20,"t":"3"},{"p":6,"r":15,"c":24,"t":"2"},{"p":6,"r":15,"c":32,"t":"4"},{"p":6,"r":15,"c":37,"t":"3"},{"p":6,"r":15,"c":55,"t":"5"},{"p":6,"r":15,"c":60,"t":"4"},
{"p":6,"r":16,"c":11,"t":"2"},{"p":6,"r":16,"c":17,"t":"1 3"},{"p":6,"r":16,"c":25,"t":"2"},{"p":6,"r":16,"c":31,"t":"4"},{"p":6,"r":16,"c":38,"t":"3"},{"p":6,"r":16,"c":54,"t":"5"},{"p":6,"r":16,"c":61,"t":"4"},
{"p":6,"r":17,"c":10,"t":"2"},{"p":6,"r":17,"c":17,"t":"1 3"},{"p":6,"r":17,"c":26,"t":"2"},{"p":6,"r":17,"c":30,"t":"4"},{"p":6,"r":17,"c":39,"t":"3"},{"p":6,"r":17,"c":53,"t":"5"},{"p":6,"r":17,"c":62,"t":"4"},
{"p":6,"r":18,"c":9,"t":"2"},{"p":6,"r":18,"c":18,"t":"*"},{"p":6,"r":18,"c":27,"t":"2 4"},{"p":6,"r":18,"c":40,"t":"3"},{"p":6,"r":18,"c":52,"t":"5"},{"p":6,"r":18,"c":63,"t":"4"},
{"p":6,"r":19,"c":8,"t":"2"},{"p":6,"r":19,"c":17,"t":"3 11"},{"p":6,"r":19,"c":28,"t":"*"},{"p":6,"r":19,"c":41,"t":"3"},{"p":6,"r":19,"c":50,"t":"55"},{"p":6,"r":19,"c":64,"t":"4"},
{"p":6,"r":20,"c":15,"t":"33"},{"p":6,"r":20,"c":21,"t":"1"},{"p":6,"r":20,"c":26,"t":"44 22"},{"p":6,"r":20,"c":42,"t":"333"},{"p":6,"r":20,"c":48,"t":"55"},
{"p":6,"r":21,"c":12,"t":"333"},{"p":6,"r":21,"c":22,"t":"1**4"},{"p":6,"r":21,"c":31,"t":"2222"},{"p":6,"r":21,"c":44,"t":"5***3"},
{"p":6,"r":22,"c":8,"t":"***************"},{"p":6,"r":22,"c":23,"t":"55"},{"p":6,"r":22,"c":25,"t":"****************************************"},
{"p":6,"r":23,"c":7,"t":"-+-------+-------+-------+-------+-------+-------+-------+-"},
{"p":6,"r":24,"c":7,"t":"-6"},{"p":6,"r":24,"c":15,"t":"-4"},{"p":6,"r":24,"c":23,"t":"-2"},{"p":6,"r":24,"c":32,"t":"0"},{"p":6,"r":24,"c":40,"t":"2"},{"p":6,"r":24,"c":48,"t":"4"},{"p":6,"r":24,"c":56,"t":"6"},{"p":6,"r":24,"c":64,"t":"8"},
{"p":6,"r":25,"c":20,"t":"PERSON [MINUS] ITEM MEASURE"},

{"p":7,"r":0,"c":3,"t":"Category probabilities: modes-Andrich thresholds at intersections"},
{"p":7,"r":1,"c":7,"t":"-+-------+-------+-------+-------+-------+-------+-------+-"},
{"p":7,"r":2,"c":19,"t":"(HLQ subscale 7"},
{"p":7,"r":3,"c":64,"t":"5"},
{"p":7,"r":4,"c":8,"t":"1"},{"p":7,"r":4,"c":62,"t":"55"},
{"p":7,"r":5,"c":9,"t":"1"},{"p":7,"r":5,"c":44,"t":"44"},{"p":7,"r":5,"c":61,"t":"5"},
{"p":7,"r":6,"c":10,"t":"1"},{"p":7,"r":6,"c":42,"t":"44"},{"p":7,"r":6,"c":46,"t":"444"},{"p":7,"r":6,"c":59,"t":"55"},
{"p":7,"r":7,"c":11,"t":"1"},{"p":7,"r":7,"c":40,"t":"44"},{"p":7,"r":7,"c":49,"t":"4"},{"p":7,"r":7,"c":58,"t":"5"},
{"p":7,"r":8,"c":12,"t":"1"},{"p":7,"r":8,"c":28,"t":"3333"},{"p":7,"r":8,"c":39,"t":"4"},{"p":7,"r":8,"c":50,"t":"4"},{"p":7,"r":8,"c":57,"t":"5"},
{"p":7,"r":9,"c":13,"t":"1"},{"p":7,"r":9,"c":26,"t":"33"},{"p":7,"r":9,"c":32,"t":"3"},{"p":7,"r":9,"c":38,"t":"4"},{"p":7,"r":9,"c":51,"t":"4"},{"p":7,"r":9,"c":56,"t":"5"},
{"p":7,"r":10,"c":14,"t":"1"},{"p":7,"r":10,"c":25,"t":"3"},{"p":7,"r":10,"c":33,"t":"3"},{"p":7,"r":10,"c":37,"t":"4"},{"p":7,"r":10,"c":52,"t":"4"},{"p":7,"r":10,"c":55,"t":"5"},
{"p":7,"r":11,"c":14,"t":"1"},{"p":7,"r":11,"c":18,"t":"222"},{"p":7,"r":11,"c":24,"t":"3"},{"p":7,"r":11,"c":34,"t":"3 4"},{"p":7,"r":11,"c":53,"t":"4 5"},
{"p":7,"r":12,"c":15,"t":"1 2"},{"p":7,"r":12,"c":21,"t":"223"},{"p":7,"r":12,"c":35,"t":"34"},{"p":7,"r":12,"c":54,"t":"*"},
{"p":7,"r":13,"c":16,"t":"*"},{"p":7,"r":13,"c":23,"t":"*"},{"p":7,"r":13,"c":35,"t":"43"},{"p":7,"r":13,"c":53,"t":"54"},
{"p":7,"r":14,"c":15,"t":"2 1"},{"p":7,"r":14,"c":22,"t":"3 2"},{"p":7,"r":14,"c":34,"t":"4"},{"p":7,"r":14,"c":37,"t":"3"},{"p":7,"r":14,"c":52,"t":"5"},{"p":7,"r":14,"c":55,"t":"4"},
{"p":7,"r":15,"c":14,"t":"2"},{"p":7,"r":15,"c":17,"t":"1"},{"p":7,"r":15,"c":21,"t":"3"},{"p":7,"r":15,"c":25,"t":"2"},{"p":7,"r":15,"c":33,"t":"4"},{"p":7,"r":15,"c":38,"t":"3"},{"p":7,"r":15,"c":51,"t":"5"},{"p":7,"r":15,"c":56,"t":"4"},
{"p":7,"r":16,"c":13,"t":"2"},{"p":7,"r":16,"c":18,"t":"1 3"},{"p":7,"r":16,"c":26,"t":"2"},{"p":7,"r":16,"c":32,"t":"4"},{"p":7,"r":16,"c":39,"t":"3"},{"p":7,"r":16,"c":50,"t":"5"},{"p":7,"r":16,"c":57,"t":"4"},
{"p":7,"r":17,"c":12,"t":"2"},{"p":7,"r":17,"c":19,"t":"13"},{"p":7,"r":17,"c":27,"t":"2"},{"p":7,"r":17,"c":31,"t":"4"},{"p":7,"r":17,"c":40,"t":"3"},{"p":7,"r":17,"c":49,"t":"55"},{"p":7,"r":17,"c":58,"t":"4"},
{"p":7,"r":18,"c":10,"t":"22"},{"p":7,"r":18,"c":19,"t":"31"},{"p":7,"r":18,"c":28,"t":"2 44"},{"p":7,"r":18,"c":41,"t":"3"},{"p":7,"r":18,"c":48,"t":"5"},{"p":7,"r":18,"c":59,"t":"44"},
{"p":7,"r":19,"c":9,"t":"2"},{"p":7,"r":19,"c":18,"t":"3"},{"p":7,"r":19,"c":21,"t":"1"},{"p":7,"r":19,"c":29,"t":"*"},{"p":7,"r":19,"c":42,"t":"3"},{"p":7,"r":19,"c":47,"t":"5"},{"p":7,"r":19,"c":61,"t":"4"},
{"p":7,"r":20,"c":8,"t":"2"},{"p":7,"r":20,"c":16,"t":"33"},{"p":7,"r":20,"c":22,"t":"1"},{"p":7,"r":20,"c":27,"t":"44 22"},{"p":7,"r":20,"c":43,"t":"33*5"},{"p":7,"r":20,"c":62,"t":"44"},
{"p":7,"r":21,"c":13,"t":"333"},{"p":7,"r":21,"c":23,"t":"1**4"},{"p":7,"r":21,"c":32,"t":"222"},{"p":7,"r":21,"c":41,"t":"5555 3333"},{"p":7,"r":21,"c":64,"t":"4"},
{"p":7,"r":22,"c":8,"t":"****************"},{"p":7,"r":22,"c":24,"t":"55"},{"p":7,"r":22,"c":26,"t":"***************************************"},
{"p":7,"r":23,"c":7,"t":"-+-------+-------+-------+-------+-------+-------+-------+-"},
{"p":7,"r":24,"c":7,"t":"-6"},{"p":7,"r":24,"c":15,"t":"-4"},{"p":7,"r":24,"c":23,"t":"-2"},{"p":7,"r":24,"c":32,"t":"0"},{"p":7,"r":24,"c":40,"t":"2"},{"p":7,"r":24,"c":48,"t":"4"},{"p":7,"r":24,"c":56,"t":"6"},{"p":7,"r":24,"c":64,"t":"8"},
{"p":7,"r":25,"c":22,"t":"PERSON [MINUS] ITEM MEASURE"},

{"p":8,"r":0,"c":2,"t":"Category probabilities:modes-Andrich thresholds at intersections"},
{"p":8,"r":1,"c":7,"t":"-+-----+-----+-----+-----+-----+-----+-----+-----+-----+-"},
{"p":8,"r":2,"c":23,"t":"(HLQ subscale 8)"},
{"p":8,"r":3,"c":61,"t":"55"},
{"p":8,"r":4,"c":8,"t":"1"},{"p":8,"r":4,"c":44,"t":"44"},{"p":8,"r":4,"c":59,"t":"55"},
{"p":8,"r":5,"c":9,"t":"1"},{"p":8,"r":5,"c":42,"t":"44"},{"p":8,"r":5,"c":46,"t":"44"},{"p":8,"r":5,"c":58,"t":"5"},
{"p":8,"r":6,"c":10,"t":"1"},{"p":8,"r":6,"c":29,"t":"3333"},{"p":8,"r":6,"c":41,"t":"4"},{"p":8,"r":6,"c":48,"t":"4"},{"p":8,"r":6,"c":57,"t":"5"},
{"p":8,"r":7,"c":11,"t":"1"},{"p":8,"r":7,"c":28,"t":"3"},{"p":8,"r":7,"c":33,"t":"3"},{"p":8,"r":7,"c":40,"t":"4"},{"p":8,"r":7,"c":49,"t":"4"},{"p":8,"r":7,"c":56,"t":"5"},
{"p":8,"r":8,"c":12,"t":"1"},{"p":8,"r":8,"c":18,"t":"2222"},{"p":8,"r":8,"c":27,"t":"3"},{"p":8,"r":8,"c":34,"t":"3"},{"p":8,"r":8,"c":39,"t":"4"},{"p":8,"r":8,"c":50,"t":"4"},{"p":8,"r":8,"c":55,"t":"5"},
{"p":8,"r":9,"c":12,"t":"1"},{"p":8,"r":9,"c":17,"t":"2"},{"p":8,"r":9,"c":22,"t":"2"},{"p":8,"r":9,"c":26,"t":"3"},{"p":8,"r":9,"c":35,"t":"3"},{"p":8,"r":9,"c":39,"t":"4"},{"p":8,"r":9,"c":51,"t":"4"},{"p":8,"r":9,"c":55,"t":"5"},
{"p":8,"r":10,"c":13,"t":"1"},{"p":8,"r":10,"c":16,"t":"2"},{"p":8,"r":10,"c":22,"t":"2"},{"p":8,"r":10,"c":25,"t":"3"},{"p":8,"r":10,"c":35,"t":"3"},{"p":8,"r":10,"c":38,"t":"4"},{"p":8,"r":10,"c":51,"t":"4"},{"p":8,"r":10,"c":54,"t":"5"},
{"p":8,"r":11,"c":13,"t":"1 2"},{"p":8,"r":11,"c":23,"t":"2 3"},{"p":8,"r":11,"c":36,"t":"34"},{"p":8,"r":11,"c":52,"t":"45"},
{"p":8,"r":12,"c":14,"t":"*"},{"p":8,"r":12,"c":24,"t":"*"},{"p":8,"r":12,"c":37,"t":"*"},{"p":8,"r":12,"c":53,"t":"*"},
{"p":8,"r":13,"c":14,"t":"21"},{"p":8,"r":13,"c":23,"t":"32"},{"p":8,"r":13,"c":36,"t":"43"},{"p":8,"r":13,"c":52,"t":"54"},
{"p":8,"r":14,"c":13,"t":"2 1"},{"p":8,"r":14,"c":23,"t":"3 2"},{"p":8,"r":14,"c":35,"t":"4"},{"p":8,"r":14,"c":38,"t":"3"},{"p":8,"r":14,"c":51,"t":"5"},{"p":8,"r":14,"c":54,"t":"4"},
{"p":8,"r":15,"c":12,"t":"2"},{"p":8,"r":15,"c":16,"t":"1"},{"p":8,"r":15,"c":22,"t":"3"},{"p":8,"r":15,"c":26,"t":"2"},{"p":8,"r":15,"c":35,"t":"4"},{"p":8,"r":15,"c":38,"t":"3"},{"p":8,"r":15,"c":51,"t":"5"},{"p":8,"r":15,"c":55,"t":"4"},
{"p":8,"r":16,"c":12,"t":"2"},{"p":8,"r":16,"c":16,"t":"1"},{"p":8,"r":16,"c":22,"t":"3"},{"p":8,"r":16,"c":26,"t":"2"},{"p":8,"r":16,"c":34,"t":"4"},{"p":8,"r":16,"c":39,"t":"3"},{"p":8,"r":16,"c":50,"t":"5"},{"p":8,"r":16,"c":55,"t":"4"},
{"p":8,"r":17,"c":11,"t":"2"},{"p":8,"r":17,"c":17,"t":"1"},{"p":8,"r":17,"c":21,"t":"3"},{"p":8,"r":17,"c":27,"t":"2"},{"p":8,"r":17,"c":33,"t":"4"},{"p":8,"r":17,"c":40,"t":"3"},{"p":8,"r":17,"c":49,"t":"5"},{"p":8,"r":17,"c":56,"t":"4"},
{"p":8,"r":18,"c":10,"t":"2"},{"p":8,"r":18,"c":18,"t":"1 3"},{"p":8,"r":18,"c":28,"t":"2"},{"p":8,"r":18,"c":33,"t":"4"},{"p":8,"r":18,"c":41,"t":"3"},{"p":8,"r":18,"c":49,"t":"5"},{"p":8,"r":18,"c":57,"t":"4"},
{"p":8,"r":19,"c":9,"t":"2"},{"p":8,"r":19,"c":19,"t":"*"},{"p":8,"r":19,"c":29,"t":"2"},{"p":8,"r":19,"c":32,"t":"4"},{"p":8,"r":19,"c":42,"t":"3"},{"p":8,"r":19,"c":48,"t":"5"},{"p":8,"r":19,"c":58,"t":"4"},
{"p":8,"r":20,"c":8,"t":"2"},{"p":8,"r":20,"c":18,"t":"3 1"},{"p":8,"r":20,"c":30,"t":"**"},{"p":8,"r":20,"c":43,"t":"33 55"},{"p":8,"r":20,"c":59,"t":"44"},
{"p":8,"r":21,"c":15,"t":"333"},{"p":8,"r":21,"c":21,"t":"111"},{"p":8,"r":21,"c":27,"t":"444"},{"p":8,"r":21,"c":32,"t":"222"},{"p":8,"r":21,"c":43,"t":"55*33"},{"p":8,"r":21,"c":61,"t":"44"},
{"p":8,"r":22,"c":8,"t":"***************************"},{"p":8,"r":22,"c":35,"t":"****************************"},
{"p":8,"r":23,"c":7,"t":"-+-----+-----+-----+-----+-----+-----+-----+-----+-----+-"},
{"p":8,"r":24,"c":7,"t":"-8"},{"p":8,"r":24,"c":13,"t":"-6"},{"p":8,"r":24,"c":19,"t":"-4"},{"p":8,"r":24,"c":25,"t":"-2"},{"p":8,"r":24,"c":32,"t":"0"},{"p":8,"r":24,"c":38,"t":"2"},{"p":8,"r":24,"c":44,"t":"4"},{"p":8,"r":24,"c":50,"t":"6"},{"p":8,"r":24,"c":56,"t":"8"},{"p":8,"r":24,"c":61,"t":"10"},
{"p":8,"r":25,"c":19,"t":"PERSON [MINUS] ITEM MEASURE"},

{"p":9,"r":0,"c":6,"t":"Category probabilities: modes-Andrich thresholds at intersections"},
{"p":9,"r":1,"c":7,"t":"-+---------+---------+---------+---------+---------+---------+-"},
{"p":9,"r":2,"c":16,"t":"(HLQ subscale 9)"},
{"p":9,"r":4,"c":68,"t":"5"},
{"p":9,"r":5,"c":8,"t":"11"},{"p":9,"r":5,"c":44,"t":"4444"},{"p":9,"r":5,"c":66,"t":"55"},
{"p":9,"r":6,"c":10,"t":"1"},{"p":9,"r":6,"c":42,"t":"44"},{"p":9,"r":6,"c":48,"t":"444"},{"p":9,"r":6,"c":64,"t":"55"},
{"p":9,"r":7,"c":11,"t":"1"},{"p":9,"r":7,"c":40,"t":"44"},{"p":9,"r":7,"c":51,"t":"44"},{"p":9,"r":7,"c":63,"t":"5"},
{"p":9,"r":8,"c":12,"t":"1"},{"p":9,"r":8,"c":39,"t":"4"},{"p":9,"r":8,"c":53,"t":"4"},{"p":9,"r":8,"c":62,"t":"5"},
{"p":9,"r":9,"c":13,"t":"1"},{"p":9,"r":9,"c":38,"t":"4"},{"p":9,"r":9,"c":54,"t":"4"},{"p":9,"r":9,"c":61,"t":"5"},
{"p":9,"r":10,"c":14,"t":"1"},{"p":9,"r":10,"c":28,"t":"333"},{"p":9,"r":10,"c":37,"t":"4"},{"p":9,"r":10,"c":55,"t":"4"},{"p":9,"r":10,"c":59,"t":"55"},
{"p":9,"r":11,"c":15,"t":"1"},{"p":9,"r":11,"c":26,"t":"33"},{"p":9,"r":11,"c":31,"t":"33"},{"p":9,"r":11,"c":36,"t":"4"},{"p":9,"r":11,"c":56,"t":"4 5"},
{"p":9,"r":12,"c":16,"t":"1"},{"p":9,"r":12,"c":25,"t":"3"},{"p":9,"r":12,"c":33,"t":"334"},{"p":9,"r":12,"c":57,"t":"*"},
{"p":9,"r":13,"c":17,"t":"122222 3"},{"p":9,"r":13,"c":34,"t":"43"},{"p":9,"r":13,"c":56,"t":"5 4"},
{"p":9,"r":14,"c":16,"t":"221"},{"p":9,"r":14,"c":23,"t":"*2"},{"p":9,"r":14,"c":33,"t":"4"},{"p":9,"r":14,"c":36,"t":"3"},{"p":9,"r":14,"c":55,"t":"5"},{"p":9,"r":14,"c":59,"t":"4"},
{"p":9,"r":15,"c":15,"t":"2"},{"p":9,"r":15,"c":19,"t":"1"},{"p":9,"r":15,"c":22,"t":"3"},{"p":9,"r":15,"c":25,"t":"2"},{"p":9,"r":15,"c":32,"t":"4"},{"p":9,"r":15,"c":37,"t":"3"},{"p":9,"r":15,"c":54,"t":"5"},{"p":9,"r":15,"c":60,"t":"44"},
{"p":9,"r":16,"c":13,"t":"22"},{"p":9,"r":16,"c":19,"t":"1 3"},{"p":9,"r":16,"c":26,"t":"2"},{"p":9,"r":16,"c":31,"t":"4"},{"p":9,"r":16,"c":38,"t":"3"},{"p":9,"r":16,"c":53,"t":"5"},{"p":9,"r":16,"c":62,"t":"4"},
{"p":9,"r":17,"c":12,"t":"2"},{"p":9,"r":17,"c":20,"t":"*"},{"p":9,"r":17,"c":27,"t":"2"},{"p":9,"r":17,"c":30,"t":"4"},{"p":9,"r":17,"c":39,"t":"33"},{"p":9,"r":17,"c":52,"t":"5"},{"p":9,"r":17,"c":63,"t":"4"},
{"p":9,"r":18,"c":10,"t":"22"},{"p":9,"r":18,"c":19,"t":"3 1"},{"p":9,"r":18,"c":28,"t":"2*"},{"p":9,"r":18,"c":41,"t":"3"},{"p":9,"r":18,"c":50,"t":"55"},{"p":9,"r":18,"c":64,"t":"44"},
{"p":9,"r":19,"c":8,"t":"22"},{"p":9,"r":19,"c":17,"t":"33"},{"p":9,"r":19,"c":22,"t":"11"},{"p":9,"r":19,"c":27,"t":"44 2"},{"p":9,"r":19,"c":42,"t":"33"},{"p":9,"r":19,"c":49,"t":"5"},{"p":9,"r":19,"c":66,"t":"44"},
{"p":9,"r":20,"c":16,"t":"3"},{"p":9,"r":20,"c":24,"t":"144"},{"p":9,"r":20,"c":31,"t":"22"},{"p":9,"r":20,"c":44,"t":"33*55"},{"p":9,"r":20,"c":68,"t":"4"},
{"p":9,"r":21,"c":12,"t":"3333"},{"p":9,"r":21,"c":22,"t":"4441111"},{"p":9,"r":21,"c":33,"t":"2222"},{"p":9,"r":21,"c":41,"t":"55555 33333"},
{"p":9,"r":22,"c":8,"t":"**************"},{"p":9,"r":22,"c":22,"t":"5555555"},{"p":9,"r":22,"c":29,"t":"****************************************"},
{"p":9,"r":23,"c":7,"t":"-+---------+---------+---------+---------+---------+---------+-"},
{"p":9,"r":24,"c":7,"t":"-5"},{"p":9,"r":24,"c":17,"t":"-3"},{"p":9,"r":24,"c":27,"t":"-1"},{"p":9,"r":24,"c":38,"t":"1"},{"p":9,"r":24,"c":48,"t":"3"},{"p":9,"r":24,"c":58,"t":"5"},{"p":9,"r":24,"c":68,"t":"7"},
{"p":9,"r":25,"c":24,"t":"PERSON [MINUS] ITEM MEASURE"}
]
},
"vconcat": [
{"hconcat": [
{"width": 502, "height": 426, "layer": [
 {"data": {"name": "axisL"}, "mark": {"type": "text", "align": "left", "baseline": "middle", "font": "DejaVu Sans Mono", "fontWeight": "bold", "fontSize": 11.45, "color": "#111"},
  "encoding": {"x": {"field": "c", "type": "quantitative", "axis": null, "scale": {"domain": [-2.237, 70.59], "nice": false, "zero": false}}, "y": {"field": "r", "type": "quantitative", "axis": null, "scale": {"domain": [-1.811, 26.25], "nice": false, "zero": false, "reverse": true}}, "text": {"field": "t"}}},
 {"data": {"name": "axisR"}, "mark": {"type": "text", "align": "left", "baseline": "middle", "font": "DejaVu Sans Mono", "fontWeight": "bold", "fontSize": 11.45, "color": "#111"},
  "encoding": {"x": {"datum": 65}, "y": {"field": "r", "type": "quantitative", "axis": null}, "text": {"field": "t"}}},
 {"data": {"name": "seg"}, "transform": [{"filter": "datum.p == 1"}], "mark": {"type": "text", "align": "left", "baseline": "middle", "font": "DejaVu Sans Mono", "fontWeight": "bold", "fontSize": 11.45, "color": "#111"},
  "encoding": {"x": {"field": "c", "type": "quantitative", "axis": null}, "y": {"field": "r", "type": "quantitative", "axis": null}, "text": {"field": "t"}}},
 {"data": {"name": "titles"}, "transform": [{"filter": "datum.p == 1"}], "mark": {"type": "text", "align": "center", "baseline": "middle", "font": "Liberation Serif", "fontWeight": "bold", "fontSize": 16, "color": "black"},
  "encoding": {"x": {"datum": 33.82}, "y": {"datum": -1.185}, "text": {"field": "t"}}},
 {"data": {"values": [{}]}, "mark": {"type": "rule", "color": "black", "strokeWidth": 2}, "encoding": {"y": {"datum": -0.54}}}
]},
{"width": 524, "height": 426, "layer": [
 {"data": {"name": "axisL"}, "mark": {"type": "text", "align": "left", "baseline": "middle", "font": "DejaVu Sans Mono", "fontWeight": "bold", "fontSize": 11.98, "color": "#111"},
  "encoding": {"x": {"field": "c", "type": "quantitative", "axis": null, "scale": {"domain": [-1.811, 70.87], "nice": false, "zero": false}}, "y": {"field": "r", "type": "quantitative", "axis": null, "scale": {"domain": [-1.692, 26.28], "nice": false, "zero": false, "reverse": true}}, "text": {"field": "t"}}},
 {"data": {"name": "axisR"}, "mark": {"type": "text", "align": "left", "baseline": "middle", "font": "DejaVu Sans Mono", "fontWeight": "bold", "fontSize": 11.98, "color": "#111"},
  "encoding": {"x": {"datum": 65}, "y": {"field": "r", "type": "quantitative", "axis": null}, "text": {"field": "t"}}},
 {"data": {"name": "seg"}, "transform": [{"filter": "datum.p == 2"}], "mark": {"type": "text", "align": "left", "baseline": "middle", "font": "DejaVu Sans Mono", "fontWeight": "bold", "fontSize": 11.98, "color": "#111"},
  "encoding": {"x": {"field": "c", "type": "quantitative", "axis": null}, "y": {"field": "r", "type": "quantitative", "axis": null}, "text": {"field": "t"}}},
 {"data": {"name": "titles"}, "transform": [{"filter": "datum.p == 2"}], "mark": {"type": "text", "align": "center", "baseline": "middle", "font": "Liberation Serif", "fontWeight": "bold", "fontSize": 16, "color": "black"},
  "encoding": {"x": {"datum": 34.53}, "y": {"datum": -1.069}, "text": {"field": "t"}}},
 {"data": {"values": [{}]}, "mark": {"type": "rule", "color": "black", "strokeWidth": 2}, "encoding": {"y": {"datum": -0.425}}}
]},
{"width": 504, "height": 426, "layer": [
 {"data": {"name": "axisL"}, "mark": {"type": "text", "align": "left", "baseline": "middle", "font": "DejaVu Sans Mono", "fontWeight": "bold", "fontSize": 10.88, "color": "#111"},
  "encoding": {"x": {"field": "c", "type": "quantitative", "axis": null, "scale": {"domain": [-2.708, 74.27], "nice": false, "zero": false}}, "y": {"field": "r", "type": "quantitative", "axis": null, "scale": {"domain": [-2.005, 26.02], "nice": false, "zero": false, "reverse": true}}, "text": {"field": "t"}}},
 {"data": {"name": "axisR"}, "mark": {"type": "text", "align": "left", "baseline": "middle", "font": "DejaVu Sans Mono", "fontWeight": "bold", "fontSize": 10.88, "color": "#111"},
  "encoding": {"x": {"datum": 65}, "y": {"field": "r", "type": "quantitative", "axis": null}, "text": {"field": "t"}}},
 {"data": {"name": "seg"}, "transform": [{"filter": "datum.p == 3"}], "mark": {"type": "text", "align": "left", "baseline": "middle", "font": "DejaVu Sans Mono", "fontWeight": "bold", "fontSize": 10.88, "color": "#111"},
  "encoding": {"x": {"field": "c", "type": "quantitative", "axis": null}, "y": {"field": "r", "type": "quantitative", "axis": null}, "text": {"field": "t"}}},
 {"data": {"name": "titles"}, "transform": [{"filter": "datum.p == 3"}], "mark": {"type": "text", "align": "center", "baseline": "middle", "font": "Liberation Serif", "fontWeight": "bold", "fontSize": 16, "color": "black"},
  "encoding": {"x": {"datum": 35.78}, "y": {"datum": -1.38}, "text": {"field": "t"}}},
 {"data": {"values": [{}]}, "mark": {"type": "rule", "color": "black", "strokeWidth": 2}, "encoding": {"y": {"datum": -0.735}}}
]},
{"width": 480, "height": 426, "layer": [
 {"data": {"name": "axisL"}, "mark": {"type": "text", "align": "left", "baseline": "middle", "font": "DejaVu Sans Mono", "fontWeight": "bold", "fontSize": 10.75, "color": "#111"},
  "encoding": {"x": {"field": "c", "type": "quantitative", "axis": null, "scale": {"domain": [-1.869, 72.28], "nice": false, "zero": false}}, "y": {"field": "r", "type": "quantitative", "axis": null, "scale": {"domain": [-1.904, 26.65], "nice": false, "zero": false, "reverse": true}}, "text": {"field": "t"}}},
 {"data": {"name": "axisR"}, "mark": {"type": "text", "align": "left", "baseline": "middle", "font": "DejaVu Sans Mono", "fontWeight": "bold", "fontSize": 10.75, "color": "#111"},
  "encoding": {"x": {"datum": 69}, "y": {"field": "r", "type": "quantitative", "axis": null}, "text": {"field": "t"}}},
 {"data": {"name": "seg"}, "transform": [{"filter": "datum.p == 4"}], "mark": {"type": "text", "align": "left", "baseline": "middle", "font": "DejaVu Sans Mono", "fontWeight": "bold", "fontSize": 10.75, "color": "#111"},
  "encoding": {"x": {"field": "c", "type": "quantitative", "axis": null}, "y": {"field": "r", "type": "quantitative", "axis": null}, "text": {"field": "t"}}},
 {"data": {"name": "titles"}, "transform": [{"filter": "datum.p == 4"}], "mark": {"type": "text", "align": "center", "baseline": "middle", "font": "Liberation Serif", "fontWeight": "bold", "fontSize": 16, "color": "black"},
  "encoding": {"x": {"datum": 35.21}, "y": {"datum": -1.267}, "text": {"field": "t"}}},
 {"data": {"values": [{}]}, "mark": {"type": "rule", "color": "black", "strokeWidth": 2}, "encoding": {"y": {"datum": -0.61}}}
]}
], "spacing": 0, "bounds": "flush"},
{"hconcat": [
{"width": 502, "height": 426, "layer": [
 {"data": {"name": "axisL"}, "mark": {"type": "text", "align": "left", "baseline": "middle", "font": "DejaVu Sans Mono", "fontWeight": "bold", "fontSize": 10.92, "color": "#111"},
  "encoding": {"x": {"field": "c", "type": "quantitative", "axis": null, "scale": {"domain": [-2.135, 74.19], "nice": false, "zero": false}}, "y": {"field": "r", "type": "quantitative", "axis": null, "scale": {"domain": [-2.038, 26.1], "nice": false, "zero": false, "reverse": true}}, "text": {"field": "t"}}},
 {"data": {"name": "axisR"}, "mark": {"type": "text", "align": "left", "baseline": "middle", "font": "DejaVu Sans Mono", "fontWeight": "bold", "fontSize": 10.92, "color": "#111"},
  "encoding": {"x": {"datum": 69}, "y": {"field": "r", "type": "quantitative", "axis": null}, "text": {"field": "t"}}},
 {"data": {"name": "seg"}, "transform": [{"filter": "datum.p == 5"}], "mark": {"type": "text", "align": "left", "baseline": "middle", "font": "DejaVu Sans Mono", "fontWeight": "bold", "fontSize": 10.92, "color": "#111"},
  "encoding": {"x": {"field": "c", "type": "quantitative", "axis": null}, "y": {"field": "r", "type": "quantitative", "axis": null}, "text": {"field": "t"}}},
 {"data": {"name": "titles"}, "transform": [{"filter": "datum.p == 5"}], "mark": {"type": "text", "align": "center", "baseline": "middle", "font": "Liberation Serif", "fontWeight": "bold", "fontSize": 16, "color": "black"},
  "encoding": {"x": {"datum": 36.03}, "y": {"datum": -1.378}, "text": {"field": "t"}}},
 {"data": {"values": [{}]}, "mark": {"type": "rule", "color": "black", "strokeWidth": 2}, "encoding": {"y": {"datum": -0.717}}}
]},
{"width": 524, "height": 426, "layer": [
 {"data": {"name": "axisL"}, "mark": {"type": "text", "align": "left", "baseline": "middle", "font": "DejaVu Sans Mono", "fontWeight": "bold", "fontSize": 11.97, "color": "#111"},
  "encoding": {"x": {"field": "c", "type": "quantitative", "axis": null, "scale": {"domain": [-2.138, 70.61], "nice": false, "zero": false}}, "y": {"field": "r", "type": "quantitative", "axis": null, "scale": {"domain": [-1.984, 26.27], "nice": false, "zero": false, "reverse": true}}, "text": {"field": "t"}}},
 {"data": {"name": "axisR"}, "mark": {"type": "text", "align": "left", "baseline": "middle", "font": "DejaVu Sans Mono", "fontWeight": "bold", "fontSize": 11.97, "color": "#111"},
  "encoding": {"x": {"datum": 65}, "y": {"field": "r", "type": "quantitative", "axis": null}, "text": {"field": "t"}}},
 {"data": {"name": "seg"}, "transform": [{"filter": "datum.p == 6"}], "mark": {"type": "text", "align": "left", "baseline": "middle", "font": "DejaVu Sans Mono", "fontWeight": "bold", "fontSize": 11.97, "color": "#111"},
  "encoding": {"x": {"field": "c", "type": "quantitative", "axis": null}, "y": {"field": "r", "type": "quantitative", "axis": null}, "text": {"field": "t"}}},
 {"data": {"name": "titles"}, "transform": [{"filter": "datum.p == 6"}], "mark": {"type": "text", "align": "center", "baseline": "middle", "font": "Liberation Serif", "fontWeight": "bold", "fontSize": 16, "color": "black"},
  "encoding": {"x": {"datum": 34.24}, "y": {"datum": -1.321}, "text": {"field": "t"}}},
 {"data": {"values": [{}]}, "mark": {"type": "rule", "color": "black", "strokeWidth": 2}, "encoding": {"y": {"datum": -0.658}}}
]},
{"width": 504, "height": 426, "layer": [
 {"data": {"name": "axisL"}, "mark": {"type": "text", "align": "left", "baseline": "middle", "font": "DejaVu Sans Mono", "fontWeight": "bold", "fontSize": 11.5, "color": "#111"},
  "encoding": {"x": {"field": "c", "type": "quantitative", "axis": null, "scale": {"domain": [-2.197, 70.6], "nice": false, "zero": false}}, "y": {"field": "r", "type": "quantitative", "axis": null, "scale": {"domain": [-1.785, 26.24], "nice": false, "zero": false, "reverse": true}}, "text": {"field": "t"}}},
 {"data": {"name": "axisR"}, "mark": {"type": "text", "align": "left", "baseline": "middle", "font": "DejaVu Sans Mono", "fontWeight": "bold", "fontSize": 11.5, "color": "#111"},
  "encoding": {"x": {"datum": 65}, "y": {"field": "r", "type": "quantitative", "axis": null}, "text": {"field": "t"}}},
 {"data": {"name": "seg"}, "transform": [{"filter": "datum.p == 7"}], "mark": {"type": "text", "align": "left", "baseline": "middle", "font": "DejaVu Sans Mono", "fontWeight": "bold", "fontSize": 11.5, "color": "#111"},
  "encoding": {"x": {"field": "c", "type": "quantitative", "axis": null}, "y": {"field": "r", "type": "quantitative", "axis": null}, "text": {"field": "t"}}},
 {"data": {"name": "titles"}, "transform": [{"filter": "datum.p == 7"}], "mark": {"type": "text", "align": "center", "baseline": "middle", "font": "Liberation Serif", "fontWeight": "bold", "fontSize": 16, "color": "black"},
  "encoding": {"x": {"datum": 34.2}, "y": {"datum": -1.127}, "text": {"field": "t"}}},
 {"data": {"values": [{}]}, "mark": {"type": "rule", "color": "black", "strokeWidth": 2}, "encoding": {"y": {"datum": -0.469}}}
]},
{"width": 480, "height": 426, "layer": [
 {"data": {"name": "axisL"}, "mark": {"type": "text", "align": "left", "baseline": "middle", "font": "DejaVu Sans Mono", "fontWeight": "bold", "fontSize": 11.35, "color": "#111"},
  "encoding": {"x": {"field": "c", "type": "quantitative", "axis": null, "scale": {"domain": [-2.134, 68.11], "nice": false, "zero": false}}, "y": {"field": "r", "type": "quantitative", "axis": null, "scale": {"domain": [-1.748, 26.8], "nice": false, "zero": false, "reverse": true}}, "text": {"field": "t"}}},
 {"data": {"name": "axisR"}, "mark": {"type": "text", "align": "left", "baseline": "middle", "font": "DejaVu Sans Mono", "fontWeight": "bold", "fontSize": 11.35, "color": "#111"},
  "encoding": {"x": {"datum": 63}, "y": {"field": "r", "type": "quantitative", "axis": null}, "text": {"field": "t"}}},
 {"data": {"name": "seg"}, "transform": [{"filter": "datum.p == 8"}], "mark": {"type": "text", "align": "left", "baseline": "middle", "font": "DejaVu Sans Mono", "fontWeight": "bold", "fontSize": 11.35, "color": "#111"},
  "encoding": {"x": {"field": "c", "type": "quantitative", "axis": null}, "y": {"field": "r", "type": "quantitative", "axis": null}, "text": {"field": "t"}}},
 {"data": {"name": "titles"}, "transform": [{"filter": "datum.p == 8"}], "mark": {"type": "text", "align": "center", "baseline": "middle", "font": "Liberation Serif", "fontWeight": "bold", "fontSize": 16, "color": "black"},
  "encoding": {"x": {"datum": 32.99}, "y": {"datum": -1.078}, "text": {"field": "t"}}},
 {"data": {"values": [{}]}, "mark": {"type": "rule", "color": "black", "strokeWidth": 2}, "encoding": {"y": {"datum": -0.408}}}
]}
], "spacing": 0, "bounds": "flush"},
{"hconcat": [
{"width": 502, "height": 390, "layer": [
 {"data": {"name": "axisL"}, "mark": {"type": "text", "align": "left", "baseline": "middle", "font": "DejaVu Sans Mono", "fontWeight": "bold", "fontSize": 10.56, "color": "#111"},
  "encoding": {"x": {"field": "c", "type": "quantitative", "axis": null, "scale": {"domain": [-2.509, 76.46], "nice": false, "zero": false}}, "y": {"field": "r", "type": "quantitative", "axis": null, "scale": {"domain": [-1.846, 25.45], "nice": false, "zero": false, "reverse": true}}, "text": {"field": "t"}}},
 {"data": {"name": "axisR"}, "mark": {"type": "text", "align": "left", "baseline": "middle", "font": "DejaVu Sans Mono", "fontWeight": "bold", "fontSize": 10.56, "color": "#111"},
  "encoding": {"x": {"datum": 69}, "y": {"field": "r", "type": "quantitative", "axis": null}, "text": {"field": "t"}}},
 {"data": {"name": "seg"}, "transform": [{"filter": "datum.p == 9"}], "mark": {"type": "text", "align": "left", "baseline": "middle", "font": "DejaVu Sans Mono", "fontWeight": "bold", "fontSize": 10.56, "color": "#111"},
  "encoding": {"x": {"field": "c", "type": "quantitative", "axis": null}, "y": {"field": "r", "type": "quantitative", "axis": null}, "text": {"field": "t"}}},
 {"data": {"name": "titles"}, "transform": [{"filter": "datum.p == 9"}], "mark": {"type": "text", "align": "center", "baseline": "middle", "font": "Liberation Serif", "fontWeight": "bold", "fontSize": 16, "color": "black"},
  "encoding": {"x": {"datum": 35.41}, "y": {"datum": -1.167}, "text": {"field": "t"}}},
 {"data": {"values": [{}]}, "mark": {"type": "rule", "color": "black", "strokeWidth": 2}, "encoding": {"y": {"datum": -0.446}}}
]},
{"width": 1505, "height": 390, "layer": [
 {"data": {"name": "note"}, "mark": {"type": "text", "align": "left", "baseline": "middle", "font": "Liberation Serif", "fontSize": 26, "color": "black"},
  "encoding": {"x": {"datum": 0, "scale": {"domain": [-14, 1491], "nice": false, "zero": false}}, "y": {"field": "i", "type": "quantitative", "axis": null, "scale": {"domain": [-1.175, 11.45], "nice": false, "zero": false, "reverse": true}}, "text": {"field": "t"}}},
 {"data": {"values": [{}]}, "mark": {"type": "rule", "color": "black", "strokeWidth": 2}, "encoding": {"y": {"datum": -0.528}}}
]}
], "spacing": 0, "bounds": "flush"}
],
"spacing": -2
}
